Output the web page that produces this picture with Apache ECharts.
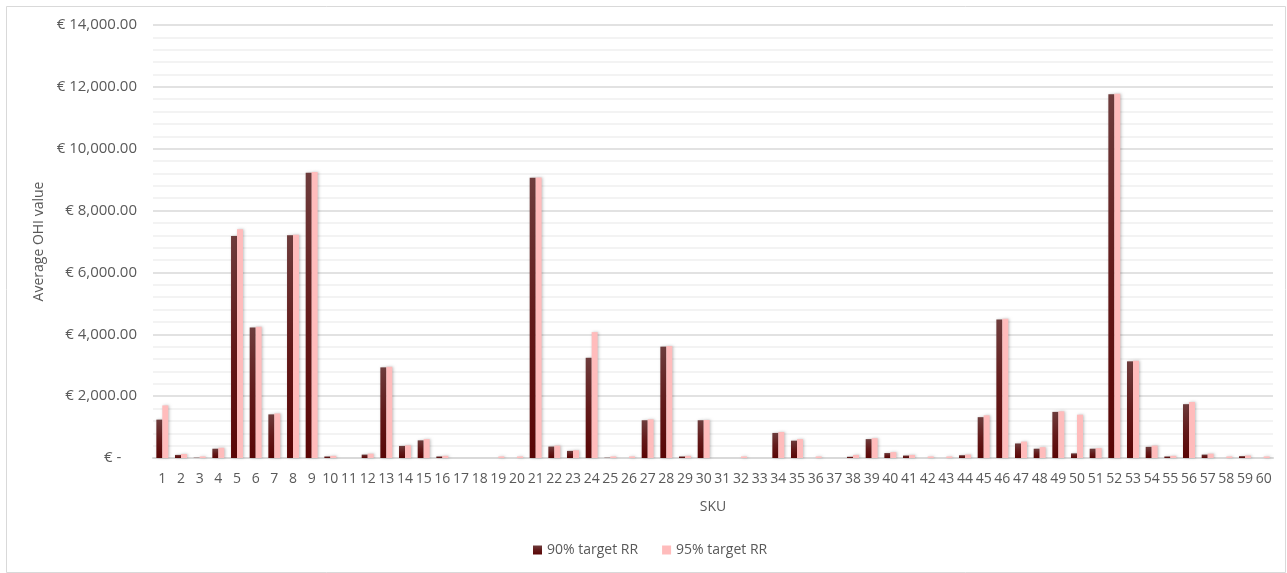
<!DOCTYPE html>
<html>
<head>
<meta charset="utf-8">
<script src="https://cdn.jsdelivr.net/npm/echarts@6/dist/echarts.min.js"></script>
<style>
  html, body { margin: 0; padding: 0; background: #ffffff; }
  #chart { width: 1287px; height: 573px; }
</style>
</head>
<body>
<div id="chart"></div>
<script>
// SKU numbers 1..60
const skus = [
  '1','2','3','4','5','6','7','8','9','10',
  '11','12','13','14','15','16','17','18','19','20',
  '21','22','23','24','25','26','27','28','29','30',
  '31','32','33','34','35','36','37','38','39','40',
  '41','42','43','44','45','46','47','48','49','50',
  '51','52','53','54','55','56','57','58','59','60'
];

// Average on-hand inventory value at 90% target RR
const rr90 = [
  1240, 100, 10, 300, 7180, 4220, 1410, 7200, 9225, 50,
  0, 110, 2930, 390, 570, 50, 0, 0, 0, 0,
  9060, 370, 230, 3240, 10, 0, 1220, 3600, 50, 1220,
  0, 0, 0, 810, 560, 0, 0, 40, 610, 160,
  80, 0, 0, 90, 1320, 4480, 470, 300, 1490, 150,
  300, 11760, 3125, 360, 50, 1740, 110, 0, 60, 0
];

// Average on-hand inventory value at 95% target RR
const rr95 = [
  1700, 130, 50, 330, 7400, 4240, 1440, 7220, 9245, 70,
  0, 140, 2950, 410, 610, 70, 0, 0, 50, 50,
  9070, 400, 250, 4070, 50, 50, 1250, 3620, 70, 1230,
  0, 50, 0, 840, 610, 50, 0, 100, 640, 190,
  100, 50, 50, 110, 1380, 4500, 530, 350, 1510, 1400,
  320, 11780, 3145, 400, 70, 1810, 140, 50, 80, 50
];

const seriesNames = ['90% target RR', '95% target RR'];

const FONT = 'Open Sans';
const TEXT = '#595959';

function euro(v) {
  if (v === 0) return '€ -    ';
  return '€ ' + v.toLocaleString('en-US', { minimumFractionDigits: 2, maximumFractionDigits: 2 });
}

const chart = echarts.init(document.getElementById('chart'), null, { renderer: 'canvas' });

const darkFill = new echarts.graphic.LinearGradient(0, 0, 0, 1, [
  { offset: 0, color: '#6e3c3c' },
  { offset: 0.5, color: '#631a1a' },
  { offset: 1, color: '#5a0505' }
]);

chart.setOption({
  animation: false,
  backgroundColor: '#ffffff',
  graphic: [{
    type: 'rect',
    left: 4, top: 4,
    shape: { width: 1279, height: 566 },
    style: { fill: 'none', stroke: '#d9d9d9', lineWidth: 1 },
    silent: true
  }],
  grid: { left: 153, right: 14, top: 25, bottom: 115, containLabel: false },
  legend: {
    data: seriesNames,
    bottom: 11,
    left: 528,
    itemWidth: 9,
    itemHeight: 9,
    itemGap: 24,
    icon: 'rect',
    textStyle: { fontFamily: FONT, fontSize: 14, color: TEXT }
  },
  xAxis: {
    type: 'category',
    data: skus,
    name: 'SKU',
    nameLocation: 'middle',
    nameGap: 42,
    nameTextStyle: { fontFamily: FONT, fontSize: 14, color: TEXT },
    axisLine: { lineStyle: { color: '#d9d9d9', width: 2 } },
    axisTick: { show: false },
    axisLabel: { interval: 0, fontFamily: FONT, fontSize: 14, color: TEXT, margin: 14 }
  },
  yAxis: {
    type: 'value',
    min: 0,
    max: 14000,
    interval: 2000,
    name: 'Average OHI value',
    nameLocation: 'middle',
    nameGap: 106,
    nameTextStyle: { fontFamily: FONT, fontSize: 14, color: TEXT },
    axisLine: { show: false },
    axisTick: { show: false },
    axisLabel: { formatter: euro, fontFamily: FONT, fontSize: 15, color: TEXT, margin: 16 },
    splitLine: { lineStyle: { color: '#d9d9d9', width: 1.5 } },
    minorTick: { show: false, splitNumber: 5 },
    minorSplitLine: { show: true, lineStyle: { color: '#efefef', width: 1.5 } }
  },
  series: [
    {
      name: seriesNames[0],
      type: 'bar',
      data: rr90,
      barGap: '0%',
      barCategoryGap: '36%',
      itemStyle: {
        color: darkFill,
        shadowBlur: 3,
        shadowColor: 'rgba(0,0,0,0.25)',
        shadowOffsetX: 1
      }
    },
    {
      name: seriesNames[1],
      type: 'bar',
      data: rr95,
      barGap: '0%',
      barCategoryGap: '36%',
      itemStyle: {
        color: '#ffbcbc',
        shadowBlur: 3,
        shadowColor: 'rgba(0,0,0,0.25)',
        shadowOffsetX: 1
      }
    }
  ]
});
</script>
</body>
</html>
